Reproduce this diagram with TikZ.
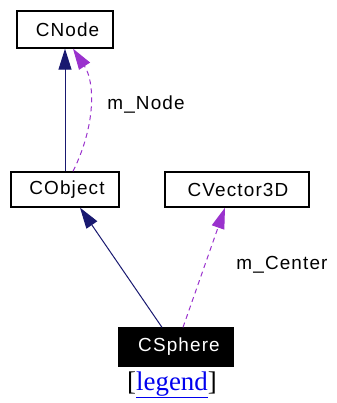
\documentclass[tikz,border=0pt]{standalone}
\usepackage{fontspec}
\setmainfont{Liberation Serif}
\newfontfamily\boxfont[LetterSpace=6]{Liberation Sans}
\usetikzlibrary{arrows.meta}
\definecolor{inhcol}{HTML}{191970}
\definecolor{usecol}{HTML}{9A32CD}
\definecolor{linkcol}{HTML}{0000EE}
\tikzset{
  cls/.style={draw=black, line width=1.3bp, fill=white, inner sep=0pt,
    minimum height=35bp, font=\boxfont\fontsize{19}{22}\selectfont},
  focus/.style={cls, fill=black, text=white},
  inh/.style={draw=inhcol, line width=1bp,
    -{Triangle[length=21bp,width=13bp,fill=inhcol]}},
  usage/.style={draw=usecol, line width=1bp, dash pattern=on 5bp off 4bp,
    -{Triangle[length=21bp,width=13bp,fill=usecol]}},
  elabel/.style={font=\boxfont\fontsize{19}{22}\selectfont, inner sep=0pt}
}
\begin{document}
\begin{tikzpicture}[x=1bp,y=-1bp]
  \useasboundingbox (0,0) rectangle (337,403);
  % classes
  \node[cls, minimum width=96bp, minimum height=37bp] (cnode) at (65,29.5) {\hspace*{5bp}CNode};
  \node[cls, minimum width=108bp] (cobject) at (65,189.5) {\hspace*{4bp}CObject};
  \node[cls, minimum width=144bp] (cvec) at (237,189.5) {\hspace*{2bp}CVector3D};
  \node[focus, minimum width=114bp, minimum height=38bp] (csphere) at (176,347) {\hspace*{6bp}CSphere};
  % inheritance
  \draw[inh] (cobject.north) -- (cnode.south);
  \draw[inh] ([xshift=-14bp]csphere.north) -- ([xshift=15bp]cobject.south);
  % members
  \draw[usage] ([xshift=8bp]cobject.north) .. controls (96,125) and (95,82) .. ([xshift=8bp]cnode.south);
  \draw[usage] ([xshift=7bp]csphere.north) -- ([xshift=-12bp]cvec.south);
  \node[elabel] (lnode) at (146,105) {m\_Node};
  \node[elabel] (lcenter) at (282,265) {m\_Center};
  % legend link
  \node[inner sep=0pt, font=\fontsize{27}{31}\selectfont] (legend) at (172,385)
    {[\textcolor{linkcol}{\underline{legend}}]};
\end{tikzpicture}
\end{document}
